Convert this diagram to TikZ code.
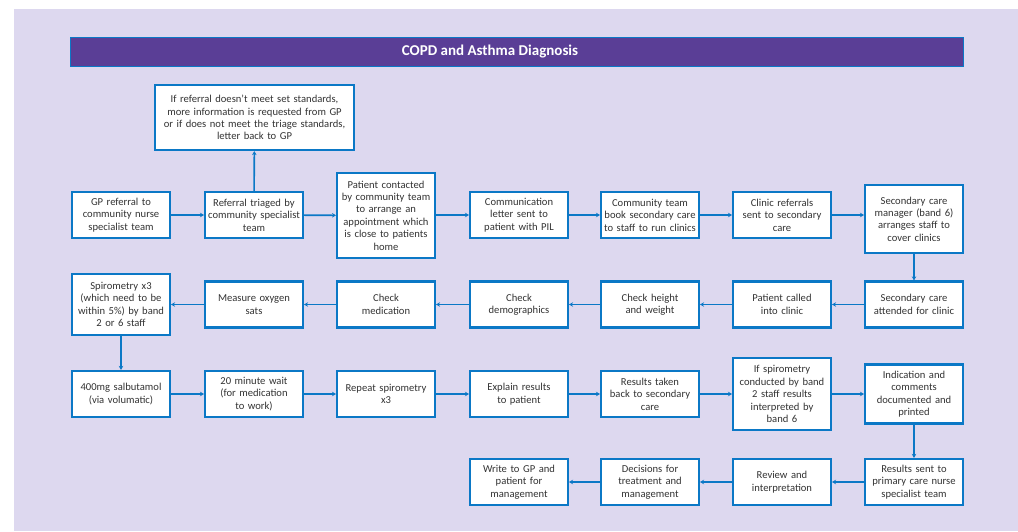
\documentclass[tikz,border=0pt]{standalone}
\usepackage{fontspec}
\setmainfont{Carlito}
\usetikzlibrary{arrows.meta}

\definecolor{bgpurple}{HTML}{DDD8EF}
\definecolor{barpurple}{HTML}{5A3E96}
\definecolor{boxblue}{HTML}{0B78C6}
\definecolor{textgray}{HTML}{333333}

\tikzstyle{stepbox}=[rectangle,draw=boxblue,line width=2.2pt,fill=white,text=textgray,align=center,text width=93pt,inner xsep=2.4pt,inner ysep=2pt,minimum height=46pt,font=\fontsize{10.6}{12.4}\selectfont]
\tikzstyle{titlebar}=[rectangle,draw=boxblue,line width=1.5pt,fill=barpurple,text=white,minimum width=893pt,minimum height=29pt,font=\fontsize{15}{17}\selectfont\bfseries]
\tikzstyle{flow}=[draw=boxblue,line width=1.6pt,-{Stealth[length=4pt,width=4.5pt]}]

\begin{document}
\begin{tikzpicture}[x=1pt,y=-1pt]
	\useasboundingbox (0,0) rectangle (1018,531);
	\fill [bgpurple] (14,9) rectangle (1018,531);

	\node (title) at (517,52) [titlebar] {COPD and Asthma Diagnosis\hspace*{54pt}};

	% first row
	\node (gpref) at (121,215) [stepbox] {GP referral to\\community nurse\\specialist team};
	\node (triage) at (254,215) [stepbox] {Referral triaged by\\community specialist\\team};
	\node (standards) at (254.5,117.5) [stepbox,text width=194pt,minimum height=65pt] {If referral doesn't meet set standards,\\more information is requested from GP\\or if does not meet the triage standards,\\letter back to GP};
	\node (contact) at (386,215.5) [stepbox,minimum height=85pt] {Patient contacted\\by community team\\to arrange an\\appointment which\\is close to patients\\home};
	\node (letter) at (519,215) [stepbox] {Communication\\letter sent to\\patient with PIL};
	\node (book) at (650,215) [stepbox] {Community team\\book secondary care\\to staff to run clinics};
	\node (clinicref) at (782,215) [stepbox] {Clinic referrals\\sent to secondary\\care};
	\node (manager) at (914,219) [stepbox,minimum height=68pt] {Secondary care\\manager (band 6)\\arranges staff to\\cover clinics};

	% second row
	\node (attended) at (914,304.5) [stepbox] {Secondary care\\attended for clinic};
	\node (called) at (782,304.5) [stepbox] {Patient called\\into clinic};
	\node (height) at (650,304.5) [stepbox] {Check height\\and weight};
	\node (demog) at (519,304.5) [stepbox] {Check\\demographics};
	\node (medic) at (386,304.5) [stepbox] {Check\\medication};
	\node (oxygen) at (254,304.5) [stepbox] {Measure oxygen\\sats};
	\node (spiro) at (121,304.5) [stepbox,minimum height=61pt] {Spirometry x3\\(which need to be\\within 5\%) by band\\2 or 6 staff};

	% third row
	\node (salbut) at (121,394) [stepbox] {400mg salbutamol\\(via volumatic)};
	\node (wait) at (254,394) [stepbox] {20 minute wait\\(for medication\\to work)};
	\node (repeat) at (386,394) [stepbox] {Repeat spirometry\\x3};
	\node (explain) at (519,394) [stepbox] {Explain results\\to patient};
	\node (taken) at (650,394) [stepbox] {Results taken\\back to secondary\\care};
	\node (band) at (782,394) [stepbox,minimum height=72pt] {If spirometry\\conducted by band\\2 staff results\\interpreted by\\band 6};
	\node (printed) at (914,394) [stepbox,minimum height=59pt] {Indication and\\comments\\documented and\\printed};

	% fourth row
	\node (sent) at (914,482) [stepbox] {Results sent to\\primary care nurse\\specialist team};
	\node (review) at (782,482) [stepbox] {Review and\\interpretation};
	\node (decide) at (650,482) [stepbox] {Decisions for\\treatment and\\management};
	\node (write) at (519,482) [stepbox] {Write to GP and\\patient for\\management};

	\draw [flow] (gpref) to (triage);
	\draw [flow] (triage) to (standards);
	\draw [flow] (triage) to (contact);
	\draw [flow] (contact.east |- letter) to (letter);
	\draw [flow] (letter) to (book);
	\draw [flow] (book) to (clinicref);
	\draw [flow] (clinicref) to (clinicref -| manager.west);
	\draw [flow] (manager) to (attended);

	\draw [flow] (attended) to (called);
	\draw [flow] (called) to (height);
	\draw [flow] (height) to (demog);
	\draw [flow] (demog) to (medic);
	\draw [flow] (medic) to (oxygen);
	\draw [flow] (oxygen) to (spiro);
	\draw [flow] (spiro) to (salbut);

	\draw [flow] (salbut) to (wait);
	\draw [flow] (wait) to (repeat);
	\draw [flow] (repeat) to (explain);
	\draw [flow] (explain) to (taken);
	\draw [flow] (taken) to (band);
	\draw [flow] (band) to (printed);
	\draw [flow] (printed) to (sent);

	\draw [flow] (sent) to (review);
	\draw [flow] (review) to (decide);
	\draw [flow] (decide) to (write);

\end{tikzpicture}
\end{document}
